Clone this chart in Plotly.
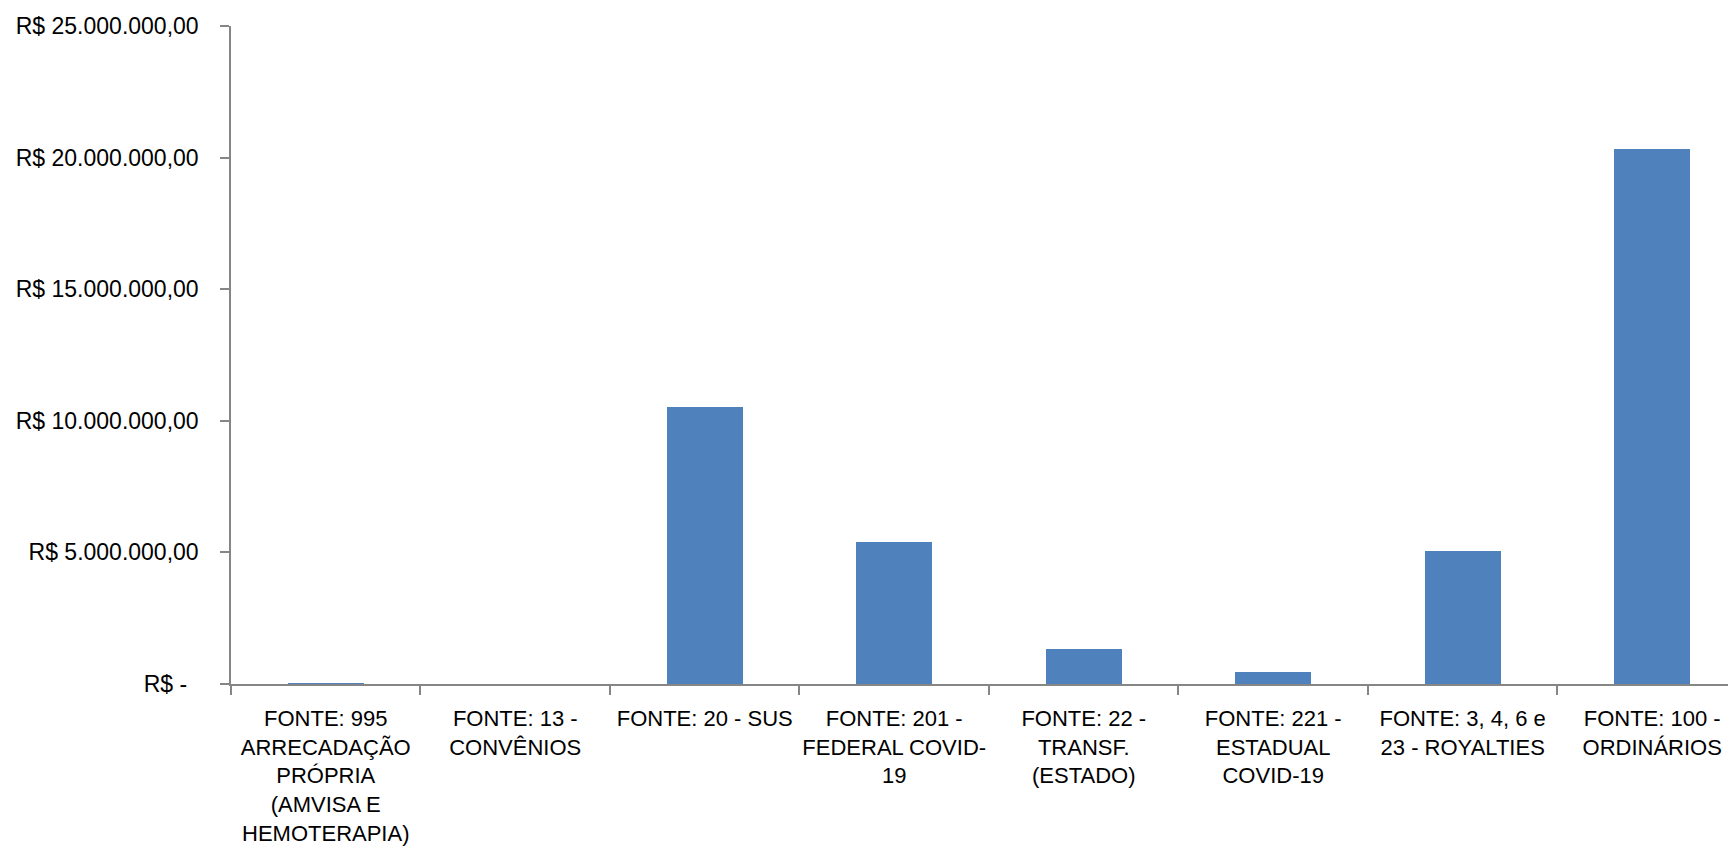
import plotly.graph_objects as go

categories = [
    "FONTE: 995<br>ARRECADAÇÃO<br>PRÓPRIA<br>(AMVISA E<br>HEMOTERAPIA)",
    "FONTE: 13 -<br>CONVÊNIOS",
    "FONTE: 20 - SUS",
    "FONTE: 201 -<br>FEDERAL COVID-<br>19",
    "FONTE: 22 -<br>TRANSF.<br>(ESTADO)",
    "FONTE: 221 -<br>ESTADUAL<br>COVID-19",
    "FONTE: 3, 4, 6 e<br>23 - ROYALTIES",
    "FONTE: 100 -<br>ORDINÁRIOS",
]
values = [15000, 0, 10510000, 5400000, 1340000, 460000, 5070000, 20310000]

y_tickvals = [0, 5000000, 10000000, 15000000, 20000000, 25000000]
y_ticktext = ["R$ -\u2002", "R$ 5.000.000,00", "R$ 10.000.000,00",
              "R$ 15.000.000,00", "R$ 20.000.000,00", "R$ 25.000.000,00"]

fig = go.Figure()
fig.add_trace(go.Bar(
    x=categories, y=values, width=0.4,
    marker=dict(color="#4F81BD", line=dict(width=0)),
))

axis_color = "#868686"
fig.update_layout(
    width=1728, height=862,
    margin=dict(l=231, r=0, t=26, b=178, autoexpand=False),
    paper_bgcolor="white", plot_bgcolor="white",
    showlegend=False,
    font=dict(family="Liberation Sans, Arial, sans-serif", size=22, color="black"),
    bargap=0,
)
fig.update_xaxes(
    type="category", range=[-0.5, 7.4],
    tickson="boundaries", ticks="outside", ticklen=9, tickcolor=axis_color, tickwidth=1.5,
    showline=True, linecolor=axis_color, linewidth=1.5,
    showgrid=False, tickangle=0, automargin=False,
    ticklabelstandoff=14,
    tickfont=dict(size=22, color="black"),
)
fig.update_yaxes(
    range=[0, 25000000],
    tickvals=y_tickvals, ticktext=y_ticktext,
    ticks="outside", ticklen=9, tickcolor=axis_color, tickwidth=1.5,
    showline=True, linecolor=axis_color, linewidth=1.5,
    showgrid=False, zeroline=False, automargin=False,
    ticklabelstandoff=17,
    tickfont=dict(size=23, color="black"),
)

fig.write_html("out.html", config={"displayModeBar": False},
               post_script="document.body.style.margin='0';")
